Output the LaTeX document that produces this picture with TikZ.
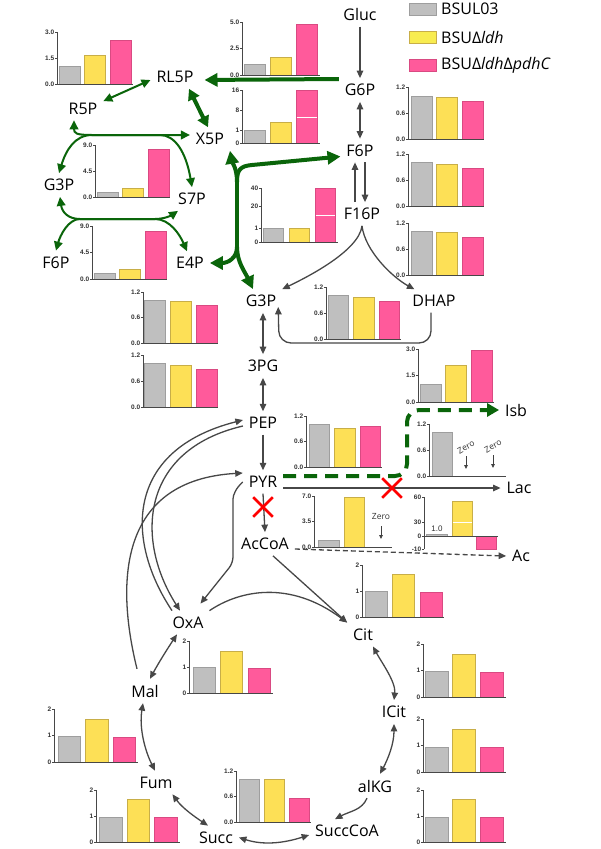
\documentclass[tikz,border=0pt]{standalone}
\usepackage{fontspec}
\setmainfont{Open Sans}
\newfontfamily\tickfont{Liberation Sans}
\usetikzlibrary{arrows.meta,shapes.misc}
\definecolor{arrg}{HTML}{474747}
\definecolor{grn}{HTML}{0A650A}
\definecolor{bgA}{HTML}{BFBFBF}
\definecolor{bgAd}{HTML}{9E9E9E}
\definecolor{byA}{HTML}{FDE056}
\definecolor{byAd}{HTML}{C8AE48}
\definecolor{bpA}{HTML}{FF5A9B}
\definecolor{bpAd}{HTML}{D94A82}
\definecolor{lgy}{HTML}{F8EC50}
\newcommand\tk[4]{\draw[axisl] (#2,#3) -- (#2-2,#3); \node[tick] (#1) at (#2-2,#3) {#4};}
\newcommand\chartt[9]{%
  \draw[axisl] (#2,#3) -- (#2,#5) -- (#6,#5);
  \tk{#1a}{#2}{#3}{#7}\tk{#1b}{#2}{#4}{#8}\tk{#1c}{#2}{#5}{#9}}
\newcommand\tribar[7]{%
  \draw[gb] (#1,#4) rectangle (#1+#2,#5);
  \draw[yb] (#1+#3,#4) rectangle (#1+#3+#2,#6);
  \draw[pb] (#1+2*#3,#4) rectangle (#1+2*#3+#2,#7);}
\begin{document}
\begin{tikzpicture}[x=1pt,y=-1pt,
 met/.style={font=\fontsize{16}{19}\selectfont, inner sep=3pt, outer sep=3pt},
 tick/.style={font=\tickfont\bfseries\fontsize{6.5}{7}\selectfont, anchor=east, inner sep=0.6pt, text=black!80},
 axisl/.style={draw=black!72, line width=0.9pt},
 gb/.style={fill=bgA, draw=bgAd, line width=0.7pt},
 yb/.style={fill=byA, draw=byAd, line width=0.7pt},
 pb/.style={fill=bpA, draw=bpAd, line width=0.7pt},
 ga/.style={draw=arrg, line width=1.3pt, -{Triangle[length=7.5pt,width=6.5pt]}},
 gab/.style={draw=arrg, line width=1.3pt, {Triangle[length=7.5pt,width=6.5pt]}-{Triangle[length=7.5pt,width=6.5pt]}},
 gthin/.style={draw=grn, line width=2pt, {Triangle[length=9pt,width=8.5pt]}-{Triangle[length=9pt,width=8.5pt]}},
 gthick/.style={draw=grn, line width=4pt, -{Triangle[length=13pt,width=13pt]}},
 gthickb/.style={draw=grn, line width=4pt, {Triangle[length=11pt,width=12pt]}-{Triangle[length=11pt,width=12pt]}},
 gdash/.style={draw=grn, line width=4pt, dash pattern=on 13pt off 8pt, -{Triangle[length=12pt,width=13pt]}},
 redx/.style={cross out, draw=red, line width=2.6pt, minimum size=17pt, inner sep=0pt},
 zero/.style={font=\fontsize{8.5}{10}\selectfont, inner sep=0pt, text=black!80},
 sa/.style={draw=black!75, line width=0.8pt, -{Triangle[length=4pt,width=3.5pt]}},
 lbox/.style={minimum width=27pt, minimum height=12pt, inner sep=0pt, line width=0.8pt},
 legt/.style={font=\fontsize{16}{19}\selectfont, anchor=west, inner sep=0pt}
]
\useasboundingbox[fill=white] (0,0) rectangle (600,849);

% ---------- legend
\node[lbox, fill=bgA, draw=bgAd] (l1) at (422.5,9) {};
\node[lbox, fill=lgy, draw=byAd] (l2) at (422.5,37) {};
\node[lbox, fill=bpA, draw=bpAd] (l3) at (422.5,65.5) {};
\node[legt] (l1t) at (441,9) {BSUL03};
\node[legt] (l2t) at (441,37) {BSUΔ\textit{ldh}};
\node[legt] (l3t) at (441,65.5) {BSUΔ\textit{ldh}Δ\textit{pdhC}};

% ---------- charts
\tribar{59}{21}{25.5}{84}{66}{55}{40}
\chartt{cA}{57}{32}{58}{84}{133}{3.0}{1.5}{0.0}
\tribar{244}{21}{26}{75}{64}{57}{24}
\chartt{cB}{242}{22}{48.5}{75}{320}{5.0}{2.5}{0.0}
\tribar{244}{21}{26}{143}{130}{122}{90}
\draw[white, line width=0.8pt] (296.5,117) -- (316.5,117);
\draw[axisl] (242,90) -- (242,143) -- (320,143);
\tk{cCa}{242}{90}{16}\tk{cCb}{242}{110}{8}\tk{cCc}{242}{130}{1}\tk{cCd}{242}{143}{0}
\tribar{97}{21}{25.5}{197}{192}{188}{149}
\chartt{cD}{95}{145}{171}{197}{170}{9.0}{4.5}{0.0}
\tribar{94}{21}{25.5}{279}{273}{269}{231}
\chartt{cE}{92}{226}{252.5}{279}{167}{9.0}{4.5}{0.0}
\tribar{263}{20.5}{26}{242}{228}{228}{188}
\draw[white, line width=0.8pt] (315.5,215) -- (335,215);
\draw[axisl] (261,188) -- (261,242) -- (338,242);
\tk{cFa}{261}{188}{40}\tk{cFb}{261}{206}{20}\tk{cFc}{261}{228}{1}\tk{cFd}{261}{242}{0}
\tribar{411}{21}{25.5}{139}{96}{97}{101}
\chartt{cG}{408}{87}{113}{139}{484}{1.2}{0.6}{0.0}
\tribar{411}{21}{25.5}{206}{162}{164}{168}
\chartt{cH}{408}{154}{180}{206}{484}{1.2}{0.6}{0.0}
\tribar{411}{21}{25.5}{275}{231}{232}{237}
\chartt{cI}{408}{223}{249}{275}{484}{1.2}{0.6}{0.0}
\tribar{328}{20.5}{25.5}{339}{295}{297}{301}
\chartt{cJ}{326}{287}{313}{339}{401}{1.2}{0.6}{0.0}
\tribar{144.5}{20.5}{26}{343}{300}{301}{305}
\chartt{cK}{143}{292}{317.5}{343}{218}{1.2}{0.6}{0.0}
\tribar{144.5}{20.5}{26}{407}{363}{365}{369}
\chartt{cL}{143}{355}{381}{407}{218}{1.2}{0.6}{0.0}
\tribar{309}{20.5}{25.5}{467}{424}{428}{426}
\chartt{cM}{306}{416}{441.5}{467}{382}{1.2}{0.6}{0.0}
\tribar{420}{21}{25.5}{402}{384}{365}{350}
\chartt{cN}{418}{349}{375.5}{402}{494}{3.0}{1.5}{0.0}
% Lac chart
\draw[gb] (432,476) rectangle (452,432);
\chartt{cO}{429}{424}{450}{476}{506}{1.2}{0.6}{0.0}
\node[zero, rotate=30] (zo1) at (466,447) {Zero};
\node[zero, rotate=30] (zo2) at (493,446) {Zero};
\draw[sa] ([yshift=-9pt]zo1.center) -- ++(0,13);
\draw[sa] ([yshift=-9pt]zo2.center) -- ++(0,13);
% AcCoA chart
\draw[gb] (318,547) rectangle (339,540);
\draw[yb] (344,547) rectangle (364,497);
\chartt{cP}{314}{496}{521.5}{547}{392}{7.0}{3.5}{0.0}
\node[zero] (zo3) at (381,517) {Zero};
\draw[sa] ([yshift=-9pt]zo3.center) -- ++(0,13);
% Ac chart
\draw[gb] (426,536) rectangle (447,534.5);
\draw[yb] (452,536) rectangle (472,501);
\draw[white, line width=0.8pt] (452.5,522) -- (471.5,522);
\draw[pb] (476,536) rectangle (496,549);
\draw[axisl] (424,497) -- (424,549);
\draw[axisl] (424,536) -- (498,536);
\tk{cQa}{424}{497}{60}\tk{cQb}{424}{522}{30}\tk{cQc}{424}{536}{0}\tk{cQd}{424}{549}{-10}
\node[zero, font=\tickfont\fontsize{8}{9}\selectfont] (q10) at (437,528.5) {1.0};
% TCA charts
\tribar{365}{22}{27.5}{617}{591}{574}{592}
\chartt{cR}{362}{565}{591}{617}{444}{2}{1}{0}
\tribar{193}{22}{27.5}{693}{667}{651}{668}
\chartt{cS}{189}{641}{667}{693}{273}{2}{1}{0}
\tribar{58}{22.5}{27.5}{762}{736}{719}{737}
\chartt{cT}{54}{709}{735.5}{762}{138}{2}{1}{0}
\tribar{99.5}{22.5}{27.5}{842}{817}{799}{817}
\chartt{cU}{96}{790}{816}{842}{180}{2}{1}{0}
\tribar{239}{20.5}{25}{822}{779}{779}{798}
\chartt{cV}{236}{771}{796.5}{822}{311}{1.2}{0.6}{0.0}
\tribar{425}{23}{27.5}{697}{671}{654}{672}
\chartt{cW}{423}{644}{670.5}{697}{506}{2}{1}{0}
\tribar{425}{23}{27.5}{772}{747}{729}{747}
\chartt{cX}{423}{719}{745.5}{772}{506}{2}{1}{0}
\tribar{425}{23}{27.5}{842}{817}{799}{817}
\chartt{cY}{423}{790}{816}{842}{506}{2}{1}{0}

% ---------- metabolites
\node[met] (gluc) at (360,14.5) {Gluc};
\node[met] (g6p) at (360,90) {G6P};
\node[met] (f6p) at (360,150.5) {F6P};
\node[met] (f16p) at (362,214) {F16P};
\node[met] (dhap) at (434,301) {DHAP};
\node[met] (g3p) at (261,301) {G3P};
\node[met] (pg3) at (263,366) {3PG};
\node[met] (pep) at (263,423) {PEP};
\node[met] (pyr) at (263,482) {PYR};
\node[met] (acc) at (265,544) {AcCoA};
\node[met] (oxa) at (188,622.5) {OxA};
\node[met] (mal) at (145,691) {Mal};
\node[met] (fum) at (156,782.5) {Fum};
\node[met] (succ) at (216,837.5) {Succ};
\node[met] (sccoa) at (347,831) {SuccCoA};
\node[met] (akg) at (375,786) {alKG};
\node[met] (icit) at (394,712) {ICit};
\node[met] (cit) at (363,634.5) {Cit};
\node[met] (lac) at (519,488) {Lac};
\node[met] (isb) at (516,410) {Isb};
\node[met] (ac) at (521,556) {Ac};
\node[met] (rl5p) at (175,77) {RL5P};
\node[met] (r5p) at (83,108.5) {R5P};
\node[met] (x5p) at (210,139) {X5P};
\node[met] (g3pp) at (59,185) {G3P};
\node[met] (s7p) at (192,199) {S7P};
\node[met] (f6pp) at (56,262.5) {F6P};
\node[met] (e4p) at (190,263) {E4P};

% ---------- gray connectors (glycolysis)
\draw[ga] (gluc.south) -- (g6p.north);
\draw[gab] (g6p.south) -- (f6p.north);
\draw[ga] ([xshift=-7pt]f16p.north) -- ([xshift=-5pt]f6p.south);
\draw[ga] ([xshift=5pt]f6p.south) -- ([xshift=3pt]f16p.north);
\draw[ga] (f16p.south) .. controls +(-3,25) and +(25,-12) .. (g3p.north east);
\draw[ga] (f16p.south) .. controls +(3,25) and +(-22,-12) .. ([xshift=8pt]dhap.north west);
\coordinate (dl) at (279,343);
\draw[ga, rounded corners=12pt] ([xshift=-3pt]dhap.south) |- (dl) -- ([xshift=-4pt,yshift=6pt]g3p.south east);
\draw[gab] (pg3.north |- g3p.south) -- (pg3.north);
\draw[gab] (pg3.south) -- (pep.north);
\draw[ga] (pep.south) -- (pyr.north);
\draw[ga] (pyr.south) -- (acc.north);
\draw[ga] (pyr.east |- lac) -- (lac.west);
\draw[ga, dash pattern=on 5pt off 3pt] ([yshift=-5pt]acc.east) -- (ac.west);
\coordinate (gc) at (407,410);
\draw[gdash, rounded corners=12pt] ([yshift=6pt]pyr.east) -| (gc) -- (isb.west);
% anaplerotic
\draw[ga, rounded corners=6pt] (pyr.west) .. controls (236,488) and (233,495) .. (233,505) -- (233,563) -- ([xshift=-9pt,yshift=7pt]oxa.north east);
\draw[ga] ([xshift=-16pt]oxa.north) .. controls (125,540) and (125,450) .. ([yshift=3pt]pep.west);
\draw[ga] ([yshift=-3pt]pep.west) .. controls (140,450) and (135,540) .. ([xshift=-8pt]oxa.north);
\draw[ga] ([xshift=-8pt,yshift=10pt]mal.north) .. controls (115,580) and (120,480) .. ([yshift=9pt]pyr.west);
% TCA
\draw[ga] ([xshift=8pt]acc.south) -- (cit.north west);
\draw[ga] (oxa.north east) .. controls (240,590) and (290,580) .. (cit.north west);
\draw[gab] ([xshift=10pt]cit.south) .. controls +(8,15) and +(2,-18) .. (icit.north);
\draw[gab] (icit.south) .. controls +(0,20) and +(8,-15) .. ([xshift=5pt]akg.north);
\draw[ga] ([xshift=-8pt]akg.south) .. controls +(-5,12) and +(15,-8) .. ([xshift=-12pt]sccoa.north);
\draw[gab] ([yshift=-4pt]sccoa.west) .. controls +(-25,8) and +(25,8) .. (succ.east);
\draw[gab] ([xshift=-6pt]fum.south east) .. controls +(10,14) and +(-12,-8) .. ([xshift=-8pt]succ.north);
\draw[gab] ([xshift=-2pt]mal.south) .. controls +(-4,25) and +(-10,-20) .. ([xshift=-1pt]fum.north);
\draw[gab] ([xshift=-11pt]oxa.south) .. controls +(-10,15) and +(8,-15) .. ([xshift=5pt]mal.north);

% ---------- green (pentose phosphate)
\draw[gthick, shorten >=5pt] ([yshift=11pt]g6p.west) -- ([yshift=-3pt]rl5p.east);
\draw[gthin] ([yshift=-3pt]rl5p.west) -- (r5p.20);
\draw[gthickb] ([xshift=14pt]rl5p.south) -- ([xshift=-2pt]x5p.north);
\draw[gthin] ([xshift=-9pt]r5p.south) .. controls +(0,13) and (76,135) .. (92,135) -- ([yshift=4pt]x5p.west);
\draw[gthin] (g3pp.north) .. controls (66,150) and (75,135) .. (92,135) -- (160,135) .. controls (175,135) and (186,152) .. (s7p.north);
\draw[gthin] ([xshift=1pt]g3pp.south) .. controls (62,212) and (68,219) .. (80,219) -- (155,219) .. controls (170,219) and (180,235) .. ([xshift=-3pt]e4p.north);
\draw[gthin] (f6pp.north) .. controls (60,236) and (68,219) .. (80,219) -- (155,219) .. controls (165,219) and (172,215) .. ([xshift=-14pt]s7p.south);
\coordinate (jt) at (237,182);
\coordinate (jb) at (237,247);
\draw[grn, line width=4pt] (jt) -- (jb);
\draw[gthick] (jt) .. controls (237,168) and (232,162) .. (x5p.south east);
\draw[gthick] (jt) .. controls (237,170) and (240,166) .. (252,165) -- ([yshift=-6pt]f6p.west);
\draw[gthick] (jb) .. controls (237,258) and (228,263) .. (e4p.east);
\draw[gthick] (jb) .. controls (237,262) and (245,272) .. ([xshift=-8pt]g3p.north);

% ---------- knockouts
\node[redx] (x1) at (263,507) {};
\node[redx] (x2) at (392,488) {};
\end{tikzpicture}
\end{document}
